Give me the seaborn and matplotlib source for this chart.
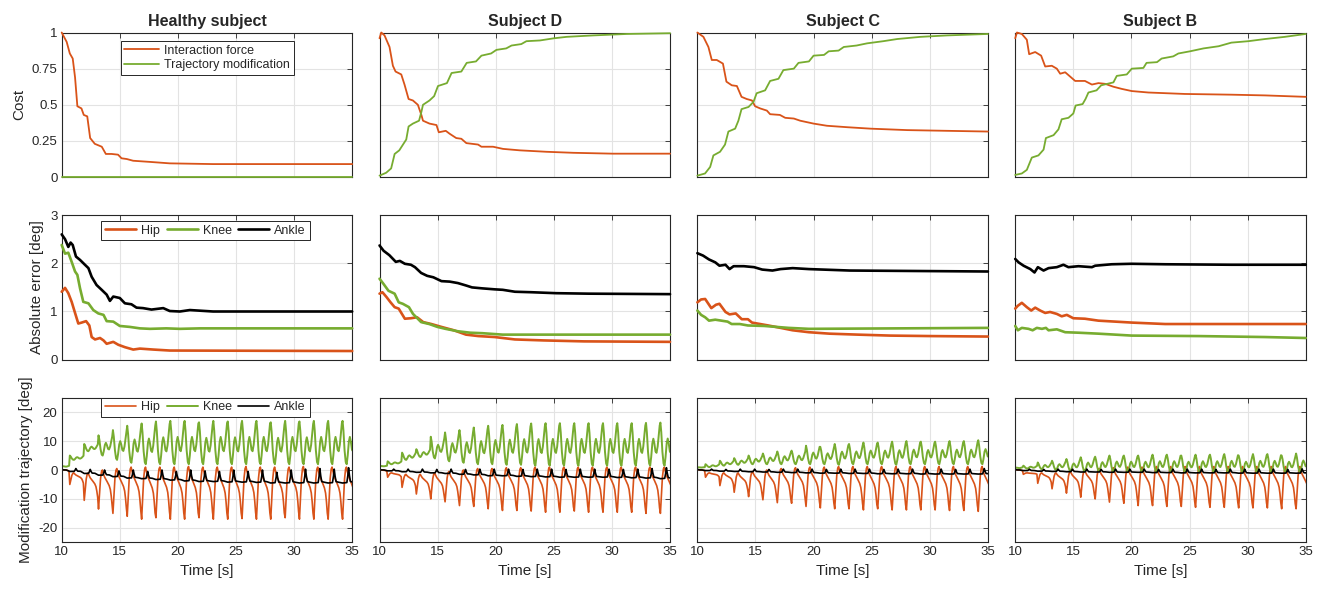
import matplotlib
matplotlib.use("Agg")
import numpy as np
import pandas as pd
import matplotlib.pyplot as plt
import seaborn as sns

# Colours used in the figure
ORANGE = "#D95319"
GREEN = "#77AC30"
BLACK = "#000000"

subjects = ["Healthy subject", "Subject D", "Subject C", "Subject B"]

# ---------------- Row 1: cost, (time [s], value)
healthy_force = [(10, 1.0), (10.43, 0.935), (10.7, 0.855), (10.95, 0.82), (11.15, 0.69), (11.35, 0.49),
                 (11.7, 0.475), (11.9, 0.43), (12.2, 0.42), (12.45, 0.27), (12.85, 0.23), (13.45, 0.21),
                 (13.8, 0.16), (14.3, 0.16), (14.85, 0.155), (15.15, 0.13), (15.6, 0.125), (16.15, 0.113),
                 (17.6, 0.105), (19.3, 0.095), (23, 0.09), (35, 0.09)]
healthy_traj = [(10, 0.0), (35, 0.0)]

d_force = [(10, 0.96), (10.15, 1.0), (10.43, 0.98), (10.86, 0.9), (11.15, 0.77), (11.38, 0.73), (11.87, 0.71),
           (12.15, 0.64), (12.5, 0.54), (12.87, 0.53), (13.3, 0.5), (13.6, 0.43), (13.74, 0.39), (14.3, 0.37),
           (14.9, 0.36), (15.1, 0.31), (15.7, 0.32), (16.03, 0.3), (16.6, 0.27), (17.04, 0.265), (17.47, 0.235),
           (18.48, 0.225), (18.77, 0.21), (19.77, 0.21), (20.63, 0.195), (22.07, 0.185), (24.37, 0.175),
           (26.67, 0.168), (30.1, 0.162), (35, 0.162)]
d_traj = [(10, 0.01), (10.57, 0.03), (11.0, 0.06), (11.3, 0.16), (11.7, 0.185), (12.3, 0.26), (12.5, 0.35),
          (12.87, 0.37), (13.4, 0.39), (13.6, 0.45), (13.74, 0.5), (14.3, 0.53), (14.7, 0.56), (15.03, 0.63),
          (15.8, 0.65), (16.2, 0.72), (17.04, 0.73), (17.5, 0.79), (18.3, 0.8), (18.77, 0.84), (19.6, 0.855),
          (20.06, 0.88), (20.9, 0.89), (21.36, 0.91), (22.2, 0.92), (22.64, 0.94), (23.8, 0.945), (25, 0.96),
          (26.1, 0.97), (28.4, 0.98), (31.3, 0.99), (35, 0.995)]

c_force = [(10, 1.0), (10.52, 0.97), (10.95, 0.9), (11.24, 0.81), (11.67, 0.81), (12.2, 0.785), (12.5, 0.66),
           (12.96, 0.635), (13.4, 0.63), (13.8, 0.555), (14.25, 0.54), (14.7, 0.53), (14.97, 0.49),
           (15.4, 0.475), (15.98, 0.46), (16.26, 0.435), (17.1, 0.43), (17.56, 0.41), (18.3, 0.405),
           (18.85, 0.39), (20, 0.37), (21.15, 0.355), (22.9, 0.345), (24.9, 0.335), (28.05, 0.325),
           (31.5, 0.32), (35, 0.315)]
c_traj = [(10, 0.01), (10.66, 0.025), (11.1, 0.07), (11.38, 0.15), (11.95, 0.175), (12.38, 0.225),
          (12.67, 0.315), (13.25, 0.335), (13.53, 0.39), (13.8, 0.47), (14.4, 0.485), (14.83, 0.52),
          (15.1, 0.58), (15.83, 0.6), (16.26, 0.665), (16.98, 0.68), (17.4, 0.74), (18.3, 0.75), (18.7, 0.79),
          (19.6, 0.8), (20, 0.84), (20.9, 0.845), (21.3, 0.87), (22.15, 0.875), (22.6, 0.9), (23.7, 0.91),
          (24.6, 0.925), (26, 0.94), (27.2, 0.955), (29.2, 0.97), (31.5, 0.98), (35, 0.99)]

b_force = [(10, 0.96), (10.15, 1.0), (10.57, 0.99), (11.0, 0.95), (11.2, 0.85), (11.72, 0.865), (12.23, 0.84),
           (12.58, 0.765), (13.15, 0.77), (13.58, 0.75), (13.87, 0.715), (14.3, 0.725), (14.73, 0.695),
           (15.16, 0.665), (16.0, 0.665), (16.6, 0.64), (17.16, 0.65), (17.74, 0.645), (18.45, 0.625),
           (19.17, 0.61), (20.03, 0.595), (21.46, 0.585), (24.6, 0.575), (28.6, 0.57), (31.5, 0.565), (35, 0.555)]
b_traj = [(10, 0.015), (10.57, 0.025), (11.0, 0.05), (11.43, 0.135), (12, 0.15), (12.44, 0.19), (12.64, 0.27),
          (13.3, 0.29), (13.72, 0.33), (14.0, 0.4), (14.58, 0.41), (15.0, 0.44), (15.2, 0.495), (15.8, 0.505),
          (16.05, 0.54), (16.3, 0.585), (17.0, 0.6), (17.4, 0.635), (18.45, 0.655), (18.74, 0.7), (19.6, 0.71),
          (20.03, 0.75), (21.03, 0.755), (21.3, 0.79), (22.2, 0.795), (22.6, 0.82), (23.6, 0.835),
          (24.04, 0.855), (25.04, 0.87), (26.2, 0.89), (27.5, 0.905), (28.6, 0.93), (30.06, 0.94),
          (31.5, 0.955), (33.2, 0.97), (35, 0.99)]

# ---------------- Row 2: absolute error [deg]
healthy_hip_err = [(10, 1.41), (10.29, 1.49), (10.57, 1.38), (10.86, 1.2), (11.15, 0.97), (11.43, 0.75),
                   (11.72, 0.77), (12.1, 0.8), (12.38, 0.71), (12.58, 0.47), (12.87, 0.42), (13.3, 0.45),
                   (13.6, 0.4), (13.87, 0.33), (14.44, 0.37), (14.87, 0.31), (15.44, 0.26), (16.16, 0.21),
                   (16.73, 0.23), (17.9, 0.21), (19.3, 0.19), (35, 0.18)]
healthy_knee_err = [(10, 2.38), (10.29, 2.2), (10.57, 2.22), (10.86, 2.03), (11.15, 1.83), (11.35, 1.76),
                    (11.58, 1.48), (11.86, 1.2), (12.3, 1.17), (12.72, 1.03), (13.15, 0.96), (13.6, 0.93),
                    (13.87, 0.8), (14.44, 0.79), (15.0, 0.7), (15.87, 0.68), (16.73, 0.65), (17.6, 0.64),
                    (19.0, 0.65), (20.17, 0.64), (21.9, 0.65), (35, 0.65)]
healthy_ankle_err = [(10, 2.6), (10.29, 2.5), (10.57, 2.34), (10.77, 2.43), (10.95, 2.38), (11.23, 2.14),
                     (11.58, 2.07), (12.0, 1.97), (12.3, 1.9), (12.58, 1.72), (13.0, 1.55), (13.44, 1.45),
                     (13.87, 1.35), (14.15, 1.22), (14.44, 1.31), (15.0, 1.28), (15.44, 1.17), (16.0, 1.15),
                     (16.44, 1.08), (17.0, 1.07), (17.73, 1.04), (18.74, 1.07), (19.3, 1.01), (20.17, 1.0),
                     (21.03, 1.03), (23.03, 1.0), (35, 1.0)]

d_hip_err = [(10, 1.37), (10.25, 1.4), (10.6, 1.3), (10.95, 1.19), (11.3, 1.09), (11.65, 1.06), (12.18, 0.85),
             (12.7, 0.86), (13.23, 0.88), (13.76, 0.78), (14.46, 0.74), (15.33, 0.68), (16.4, 0.61),
             (17.44, 0.52), (18.5, 0.49), (19.9, 0.47), (21.65, 0.42), (24.1, 0.4), (27.6, 0.38), (35, 0.37)]
d_knee_err = [(10, 1.68), (10.35, 1.57), (10.77, 1.43), (11.3, 1.37), (11.65, 1.19), (12.0, 1.16),
              (12.53, 1.09), (12.88, 0.95), (13.58, 0.78), (14.28, 0.74), (14.98, 0.68), (15.68, 0.64),
              (16.74, 0.59), (17.8, 0.56), (18.84, 0.55), (20.6, 0.52), (22.35, 0.52), (35, 0.52)]
d_ankle_err = [(10, 2.37), (10.35, 2.26), (10.84, 2.17), (11.4, 2.03), (11.75, 2.05), (12.18, 1.99),
               (12.7, 1.97), (13.05, 1.92), (13.58, 1.8), (14.1, 1.74), (14.63, 1.71), (15.33, 1.63),
               (16.04, 1.62), (16.74, 1.59), (17.44, 1.54), (17.96, 1.5), (18.84, 1.48), (19.9, 1.46),
               (20.6, 1.45), (21.65, 1.41), (23.05, 1.4), (25.2, 1.38), (28, 1.37), (35, 1.36)]

c_hip_err = [(10, 1.19), (10.32, 1.25), (10.67, 1.26), (11.2, 1.07), (11.6, 1.14), (11.9, 1.16), (12.42, 0.99),
             (12.77, 0.94), (13.3, 0.96), (13.82, 0.84), (14.35, 0.84), (14.7, 0.77), (15.4, 0.74),
             (16.1, 0.71), (17.16, 0.66), (18.2, 0.61), (19.6, 0.57), (21.37, 0.54), (23.8, 0.52),
             (26.6, 0.5), (30.1, 0.49), (35, 0.48)]
c_knee_err = [(10, 1.02), (10.32, 0.93), (10.67, 0.88), (11.0, 0.81), (11.54, 0.83), (12.07, 0.81),
              (12.6, 0.79), (12.95, 0.74), (13.65, 0.74), (14.35, 0.71), (15.75, 0.7), (17.86, 0.66),
              (19.6, 0.64), (35, 0.66)]
c_ankle_err = [(10, 2.21), (10.49, 2.16), (11.0, 2.08), (11.54, 2.02), (11.9, 1.95), (12.42, 1.97),
               (12.77, 1.88), (13.12, 1.94), (14.0, 1.94), (14.88, 1.92), (15.58, 1.87), (16.46, 1.85),
               (17.16, 1.88), (18.2, 1.9), (19.6, 1.88), (23.1, 1.85), (35, 1.83)]

b_hip_err = [(10, 1.06), (10.23, 1.12), (10.57, 1.18), (11.0, 1.09), (11.38, 1.02), (11.72, 1.08),
             (12.15, 1.02), (12.58, 0.97), (13.0, 0.99), (13.58, 0.95), (14.0, 0.9), (14.44, 0.93),
             (15.0, 0.86), (16.0, 0.85), (17.16, 0.81), (18.6, 0.79), (20.03, 0.77), (22.9, 0.74),
             (28.6, 0.74), (35, 0.74)]
b_knee_err = [(10, 0.7), (10.23, 0.61), (10.57, 0.66), (11.15, 0.64), (11.5, 0.61), (11.86, 0.66),
              (12.3, 0.64), (12.64, 0.66), (12.87, 0.61), (13.58, 0.63), (14.3, 0.57), (15.44, 0.56),
              (17.16, 0.54), (20.03, 0.5), (25.8, 0.49), (31.5, 0.47), (35, 0.45)]
b_ankle_err = [(10, 2.09), (10.29, 2.02), (10.72, 1.95), (11.3, 1.88), (11.66, 1.81), (11.95, 1.92),
               (12.44, 1.85), (12.87, 1.9), (13.58, 1.92), (14.15, 1.97), (14.58, 1.92), (15.44, 1.94),
               (16.6, 1.92), (16.88, 1.95), (18.3, 1.98), (20, 1.99), (22.9, 1.98), (28.6, 1.97), (35, 1.97)]

# ---------------- Row 3: modification trajectory [deg]
# start of each gait cycle (hip minimum / knee maximum)
gait_starts = [9.47, 10.70, 11.94, 13.17, 14.41, 15.64, 16.88, 18.11, 19.35, 20.58, 21.82,
               23.05, 24.29, 25.52, 26.76, 27.99, 29.23, 30.46, 31.70, 32.93, 34.17, 35.40]

# shape of one cycle: (phase, fraction between the cycle's low and high value)
hip_shape = [(0.0, 0.0), (0.07, 0.4), (0.14, 0.78), (0.21, 0.96), (0.27, 1.0), (0.33, 0.92), (0.42, 0.82),
             (0.6, 0.7), (0.74, 0.6), (0.82, 0.5), (0.88, 0.34), (0.94, 0.12)]
knee_shape = [(0.0, 1.0), (0.06, 0.78), (0.14, 0.32), (0.22, 0.05), (0.29, 0.0), (0.36, 0.2), (0.44, 0.52),
              (0.51, 0.63), (0.58, 0.52), (0.66, 0.33), (0.73, 0.3), (0.81, 0.45), (0.89, 0.74), (0.95, 0.94)]
ankle_shape = [(0.0, 0.0), (0.3, 0.03), (0.37, 0.5), (0.42, 1.0), (0.48, 0.5), (0.55, 0.1), (0.75, 0.05)]

# per-cycle low / high values
h_hip_low = [-0.5, -5, -10.5, -13.5, -15, -16, -17, -16.5, -17, -17, -16.5, -17, -17, -16.8, -17, -17, -16.5, -17, -17, -17, -17]
h_hip_high = [0.3, -1, -1, 0, 0.5, 1, 1, 1, 1, 1.2, 1, 1, 1, 1.2, 1, 1, 1, 1.2, 1, 1, 1]
h_knee_low = [1, 3.5, 6.5, 5, 3.5, 2.5, 2, 2, 2, 2, 2, 2, 2, 2, 2, 2, 2, 2, 2, 2, 2]
h_knee_high = [1.5, 5, 9, 12, 13.8, 15.3, 16.1, 16.8, 17, 17, 16.5, 17, 16.8, 17, 17, 16.5, 17, 16.8, 17, 17, 17]
h_ankle_low = [0, -0.5, -1.2, -1.8, -2.3, -2.8, -3, -3.3, -3.5, -3.8, -4, -4, -4.2, -4.2, -4.3, -4.5, -4.5, -4.5, -4.5, -4.5, -4.5]
h_ankle_high = [0.3, 0.5, 0.2, 0, -0.3, 0, -0.5, 0, -0.5, 0, -0.3, -0.5, 0, -0.5, 0, -0.8, 0, 0.3, 0.5, 0.3, 0.8]

d_hip_low = [-0.5, -2.5, -6, -8.3, -10, -11, -12.3, -12.6, -13.4, -14, -14, -14.2, -14.6, -14.6, -14.2, -14.6, -14.6, -14.6, -14.6, -15, -15]
d_hip_high = [0.2, -1, -1.5, -1.5, -1, -0.5, 0, 0.5, 0.5, 0.8, 0.8, 1, 1, 1, 1, 1, 1, 1, 1, 1, 1]
d_knee_low = [1.2, 2, 3.5, 4.5, 4, 3, 2.5, 2, 2, 1.8, 1.8, 1.5, 1.5, 1.5, 1.5, 1.5, 1.5, 1.5, 1.5, 1.5, 1.5]
d_knee_high = [1.5, 3, 6, 7.2, 11.5, 13, 13.8, 14.7, 15.3, 15.6, 15.9, 16.1, 16.2, 16.2, 16.2, 16.2, 16.2, 16.2, 16.2, 16.3, 16.4]
d_ankle_low = [0, -0.3, -0.6, -0.8, -1, -1.2, -1.5, -1.7, -2, -2, -2.2, -2.3, -2.4, -2.5, -2.5, -2.5, -2.5, -2.6, -2.7, -2.8, -3]
d_ankle_high = [0.3, 0.3, 0.3, 0.3, 0.2, 0.3, 0.2, 0.3, 0.3, 0.3, 0.2, 0.3, 0.3, 0.2, 0.3, 0.3, 0.3, 0.2, 0.3, 0.5, 0.8]

c_hip_low = [-0.3, -2.5, -5.4, -7.7, -9.2, -10.3, -11.3, -11.5, -12.6, -13.1, -13.4, -13.4, -13.8, -13.4, -13.8, -13.8, -13.8, -13.8, -14, -14, -14.3]
c_hip_high = [0.2, -1, -1, -1, -0.5, 0, 0.5, 0.8, 1, 1, 1.2, 1.2, 1.2, 1.2, 1.2, 1.2, 1.2, 1.2, 1.2, 1.2, 1.2]
c_knee_low = [0.8, 1, 1.5, 1.8, 2, 2, 2, 2, 2, 2, 1.8, 2, 2, 2, 1.8, 2, 2, 2, 2, 2, 2]
c_knee_high = [1, 2, 3.2, 4.1, 5, 5.7, 6.4, 6.7, 8.4, 8, 9, 9, 9.5, 9.5, 9.8, 10, 9.8, 9.8, 10, 10, 10.3]
c_ankle_low = [0, -0.2, -0.4, -0.5, -0.6, -0.7, -0.8, -0.9, -1, -1.1, -1.1, -1.2, -1.2, -1.3, -1.3, -1.3, -1.4, -1.4, -1.4, -1.4, -1.4]
c_ankle_high = [0.3, 0.3, 0.2, 0.3, 0.3, 0.2, 0.3, 0.3, 0.3, 0.2, 0.3, 0.3, 0.3, 0.2, 0.3, 0.3, 0.3, 0.3, 0.2, 0.3, 0.5]

b_hip_low = [-0.3, -1.5, -4.6, -6.5, -8, -9.4, -10, -11.1, -11.5, -12.3, -12.3, -12.6, -12.6, -12.9, -12.9, -12.9, -13.1, -13.1, -13.1, -13.4, -13.4]
b_hip_high = [0.2, -1, -1, -1, -0.5, 0, 0.5, 0.8, 1, 1, 1.2, 1.2, 1.2, 1.2, 1.2, 1.2, 1.2, 1.2, 1.2, 1.2, 1.2]
b_knee_low = [0.5, 0.5, 0.3, 0, -0.3, -0.5, -0.5, -0.6, -0.7, -0.8, -0.8, -0.8, -0.8, -0.8, -0.8, -0.8, -0.8, -0.8, -0.8, -0.8, -0.8]
b_knee_high = [1, 1.5, 2.6, 3.2, 3.8, 4.4, 4.6, 5, 5, 5, 5.3, 5.3, 5, 5.3, 5.3, 5.5, 5, 5.5, 5.5, 5, 5.7]
b_ankle_low = [0, -0.2, -0.4, -0.5, -0.6, -0.7, -0.7, -0.8, -0.8, -0.8, -0.9, -0.9, -1, -1, -1, -1, -1.1, -1.1, -1.1, -1.1, -1.1]
b_ankle_high = [0.3, 0.3, 0.2, 0.3, 0.3, 0.3, 0.2, 0.3, 0.3, 0.3, 0.2, 0.3, 0.3, 0.3, 0.2, 0.3, 0.3, 0.3, 0.3, 0.2, 0.4]

cost_data = [(healthy_force, healthy_traj), (d_force, d_traj), (c_force, c_traj), (b_force, b_traj)]
err_data = [(healthy_hip_err, healthy_knee_err, healthy_ankle_err), (d_hip_err, d_knee_err, d_ankle_err),
            (c_hip_err, c_knee_err, c_ankle_err), (b_hip_err, b_knee_err, b_ankle_err)]
mod_data = [((h_hip_low, h_hip_high), (h_knee_low, h_knee_high), (h_ankle_low, h_ankle_high)),
            ((d_hip_low, d_hip_high), (d_knee_low, d_knee_high), (d_ankle_low, d_ankle_high)),
            ((c_hip_low, c_hip_high), (c_knee_low, c_knee_high), (c_ankle_low, c_ankle_high)),
            ((b_hip_low, b_hip_high), (b_knee_low, b_knee_high), (b_ankle_low, b_ankle_high))]


def gait_points(lows, highs, shape):
    # keypoints of every cycle, joined into one polyline
    ts, vs = [], []
    for k in range(len(lows)):
        t0, t1 = gait_starts[k], gait_starts[k + 1]
        for phase, frac in shape:
            ts.append(t0 + phase * (t1 - t0))
            vs.append(lows[k] + frac * (highs[k] - lows[k]))
    ts.append(gait_starts[-1])
    vs.append(lows[-1] + shape[0][1] * (highs[-1] - lows[-1]))
    return np.array(ts), np.array(vs)


sns.set_theme(style="whitegrid", rc={
    "axes.edgecolor": "#262626", "axes.linewidth": 0.8, "grid.color": "#e3e3e3", "grid.linewidth": 0.8,
    "xtick.direction": "in", "ytick.direction": "in", "axes.unicode_minus": False,
    "text.color": "#262626", "axes.labelcolor": "#262626",
    "xtick.color": "#262626", "ytick.color": "#262626"})
plt.rcParams["font.family"] = ["Liberation Sans", "DejaVu Sans"]

fig, axes = plt.subplots(3, 4, figsize=(13.18, 5.89), dpi=100)
plt.subplots_adjust(left=0.0468, right=0.9907, bottom=0.0793, top=0.9448, wspace=0.094, hspace=0.263)

for col in range(4):
    # cost
    ax = axes[0, col]
    force, traj = cost_data[col]
    ft, fv = zip(*force)
    tt, tv = zip(*traj)
    sns.lineplot(x=list(ft), y=list(fv), color=ORANGE, lw=1.3, ax=ax, estimator=None, legend=False,
                 label="Interaction force")
    sns.lineplot(x=list(tt), y=list(tv), color=GREEN, lw=1.3, ax=ax, estimator=None, legend=False,
                 label="Trajectory modification")
    ax.set_ylim(0, 1)
    ax.set_yticks([0, 0.25, 0.5, 0.75, 1])
    ax.set_yticklabels(["0", "0.25", "0.5", "0.75", "1"])
    ax.set_title(subjects[col], fontsize=11.5, fontweight="bold", pad=5)

    # absolute error
    ax = axes[1, col]
    for series, colr, name in zip(err_data[col], [ORANGE, GREEN, BLACK], ["Hip", "Knee", "Ankle"]):
        et, ev = zip(*series)
        sns.lineplot(x=list(et), y=list(ev), color=colr, lw=1.9, ax=ax, estimator=None, legend=False,
                     label=name)
    ax.set_ylim(0, 3)
    ax.set_yticks([0, 1, 2, 3])

    # modification trajectory
    ax = axes[2, col]
    for (lows, highs), shape, colr, name, lw in zip(mod_data[col], [hip_shape, knee_shape, ankle_shape],
                                                    [ORANGE, GREEN, BLACK], ["Hip", "Knee", "Ankle"],
                                                    [1.2, 1.4, 1.2]):
        mt, mv = gait_points(lows, highs, shape)
        sns.lineplot(x=mt, y=mv, color=colr, lw=lw, ax=ax, estimator=None, sort=False, legend=False,
                     label=name)
    ax.set_ylim(-25, 25)
    ax.set_yticks([-20, -10, 0, 10, 20])
    ax.set_xlabel("Time [s]", fontsize=11)

for row in range(3):
    for col in range(4):
        ax = axes[row, col]
        ax.set_xlim(10, 35)
        ax.set_xticks([10, 15, 20, 25, 30, 35])
        ax.tick_params(top=True, right=True, length=3.5, width=0.6, labelsize=9.5, pad=3)
        ax.grid(True)
        for sp in ax.spines.values():
            sp.set_color("#262626")
            sp.set_linewidth(0.8)
        if row < 2:
            ax.set_xticklabels([])
            ax.set_xlabel("")
            for ln in ax.lines:
                ln.set_clip_on(False)
                ln.set_zorder(3)
        if col > 0:
            ax.set_yticklabels([])
            ax.set_ylabel("")

axes[0, 0].set_ylabel("Cost", fontsize=11)
axes[1, 0].set_ylabel("Absolute error [deg]", fontsize=11)
axes[2, 0].set_ylabel("Modification trajectory [deg]", fontsize=11)

leg_kw = dict(fontsize=9, frameon=True, fancybox=False, edgecolor="#262626", framealpha=1,
              borderpad=0.3, labelspacing=0.2, handletextpad=0.4, borderaxespad=0)
leg = axes[0, 0].legend(loc="upper left", bbox_to_anchor=(0.203, 0.943), handlelength=2.8, **leg_kw)
leg.get_frame().set_linewidth(0.7)
leg = axes[1, 0].legend(loc="upper left", bbox_to_anchor=(0.137, 0.96), ncol=3, columnspacing=0.5,
                        handlelength=2.5, **leg_kw)
leg.get_frame().set_linewidth(0.7)
leg = axes[2, 0].legend(loc="upper left", bbox_to_anchor=(0.137, 1.0), ncol=3, columnspacing=0.5,
                        handlelength=2.5, **leg_kw)
leg.get_frame().set_linewidth(0.7)

plt.savefig("out.png", dpi=100)
plt.close()
